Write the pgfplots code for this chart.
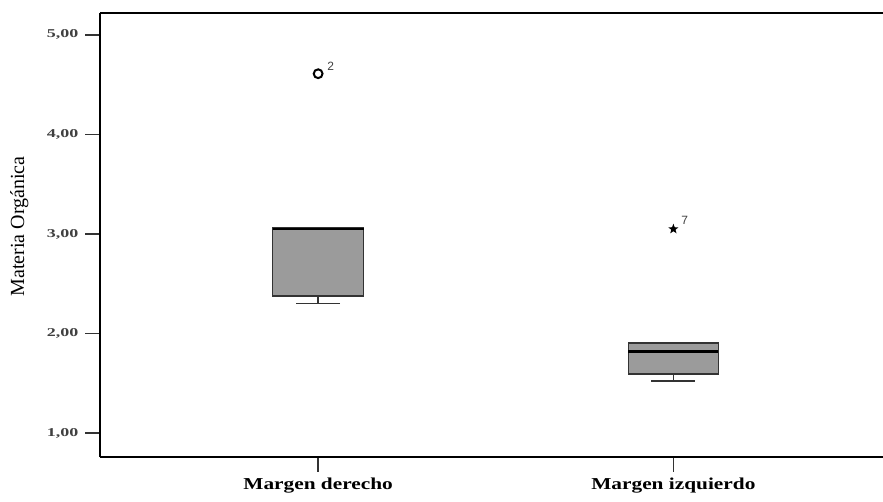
\documentclass[border=0pt]{standalone}
\usepackage{fontspec}
\setmainfont{Liberation Serif}
\newfontfamily\sansf{Liberation Sans}
\usepackage{pgfplots}
\pgfplotsset{compat=1.18}
\usepgfplotslibrary{statistics}
\usetikzlibrary{shapes.geometric}
\definecolor{boxgray}{RGB}{155,155,155}
\pgfdeclareplotmark{fstar}{\node[star,star points=5,star point ratio=2.4,fill=black,draw=none,inner sep=0pt,minimum size=8pt]{};}
\begin{document}
\begin{tikzpicture}[x=1pt,y=1pt]
\begin{axis}[
  at={(0,0)}, anchor=south west,
  scale only axis,
  width=587.25pt, height=333pt,
  xmin=0.386, xmax=2.59,
  ymin=0.76, ymax=5.22,
  axis x line*=bottom, axis y line*=left,
  axis line style={line width=1.5pt, -},
  xtick={1,2}, xticklabels={Margen derecho,Margen izquierdo},
  ytick={1,2,3,4,5},
  tick align=outside,
  major tick length=11pt,
  tick style={line width=1pt, black!80},
  /pgf/number format/assume math mode=true,
  yticklabel style={font=\fontsize{9}{10}\selectfont\bfseries, text=black!75, xscale=1.5,
    /pgf/number format/fixed, /pgf/number format/fixed zerofill,
    /pgf/number format/precision=2, /pgf/number format/use comma},
  xticklabel style={font=\fontsize{12.5}{14}\selectfont\bfseries, xscale=1.28, yshift=-1pt},
  ylabel={Materia Orgánica},
  every axis y label/.style={at={(axis description cs:-0.103,0.519)},rotate=90,anchor=center,font=\fontsize{15}{17}\selectfont},
  clip=false,
  boxplot/draw direction=y,
]
\addplot+[boxplot prepared={median=3.05, upper quartile=3.06, lower quartile=2.375, upper whisker=3.06, lower whisker=2.30, draw position=1, box extend=0.256, whisker extend=0.124},
  draw=black!80, line width=1.2pt, fill=boxgray, solid,
  mark=o, mark size=3.3pt, mark options={draw=black, line width=1.5pt, fill=none},
  boxplot/every median/.style={line width=2.2pt, black}]
  table[row sep=\\, y index=0] {4.61\\};
\addplot+[boxplot prepared={median=1.82, upper quartile=1.905, lower quartile=1.595, upper whisker=1.905, lower whisker=1.525, draw position=2, box extend=0.253, whisker extend=0.124},
  draw=black!80, line width=1.2pt, fill=boxgray, solid,
  mark=fstar, mark options={fill=black},
  boxplot/every median/.style={line width=1.6pt, black}]
  table[row sep=\\, y index=0] {3.05\\};
\node[anchor=south west, font=\sansf\fontsize{9}{10}\selectfont, text=black!75, inner sep=0pt] at (axis cs:1.025,4.64) {2};
\node[anchor=south west, font=\sansf\fontsize{9}{10}\selectfont, text=black!75, inner sep=0pt] at (axis cs:2.022,3.09) {7};
\draw[line width=1.5pt] (rel axis cs:0,1) -- (rel axis cs:1,1);
\end{axis}
\pgfresetboundingbox
\path[use as bounding box] (-75pt,-33pt) rectangle (587.25pt,342.75pt);
\end{tikzpicture}
\end{document}
